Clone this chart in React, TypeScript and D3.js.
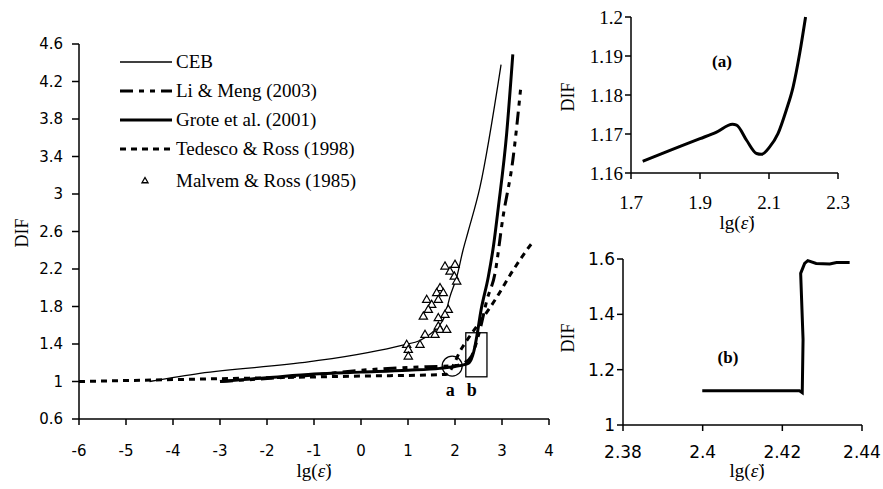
import React from "react";
import * as d3 from "d3";

// ---------- Main chart data ----------
const xTicksMain = [-6, -5, -4, -3, -2, -1, 0, 1, 2, 3, 4];
const yTicksMain = [0.6, 1, 1.4, 1.8, 2.2, 2.6, 3, 3.4, 3.8, 4.2, 4.6];

const cebX = [-4.5, -3.43, -1.09, 0.89, 1.26, 1.57, 1.79, 1.89, 2.04, 2.17, 2.28, 2.53, 2.98];
const cebY = [1.0, 1.087, 1.211, 1.389, 1.44, 1.55, 1.71, 1.9, 2.12, 2.4, 2.6, 3.07, 4.38];

const liX = [-3, -1, 0, 1, 2, 2.2, 2.35, 2.53, 2.68, 2.85, 3.02, 3.23, 3.4];
const liY = [1.0, 1.07, 1.12, 1.15, 1.17, 1.2, 1.27, 1.55, 1.87, 2.15, 2.75, 3.36, 4.14];

const groteX = [-3, -2, -1, 0, 1, 1.68, 2.0, 2.2, 2.3, 2.4, 2.47, 2.55, 2.71, 2.82, 2.92, 3.1, 3.23];
const groteY = [1.0, 1.04, 1.08, 1.1, 1.12, 1.14, 1.16, 1.18, 1.2, 1.32, 1.5, 1.75, 2.12, 2.45, 2.85, 3.65, 4.49];

const tedX = [-6, -3, 0, 1.8, 2.15, 2.89, 3.24, 3.44, 3.63, 3.68];
const tedY = [1.0, 1.03, 1.058, 1.075, 1.36, 1.9, 2.19, 2.34, 2.47, 2.5];

const malX = [1.787, 2.0, 1.894, 1.985, 2.036, 1.681, 1.611, 1.751, 1.645, 1.398, 1.504, 1.432, 1.326,
  1.857, 1.787, 1.645, 1.645, 1.681, 1.823, 1.574, 1.362, 1.255, 0.972, 1.006, 1.006];
const malY = [2.225, 2.243, 2.171, 2.118, 2.065, 1.994, 1.941, 1.941, 1.869, 1.869, 1.816, 1.763, 1.691,
  1.763, 1.709, 1.674, 1.585, 1.549, 1.549, 1.496, 1.496, 1.389, 1.389, 1.336, 1.265];

const legendLabels = ["CEB", "Li & Meng (2003)", "Grote et al. (2001)", "Tedesco & Ross (1998)", "Malvem & Ross (1985)"];

// annotation regions (data coords)
const circleA = [1.94, 1.165];
const boxB = [2.23, 2.68, 1.05, 1.52];

// ---------- Inset (a) ----------
const xTicksA = [1.7, 1.9, 2.1, 2.3];
const yTicksA = [1.16, 1.17, 1.18, 1.19, 1.2];
const aX = [1.734, 1.813, 1.9, 1.948, 1.994, 2.006, 2.035, 2.064, 2.078, 2.102, 2.126, 2.15, 2.17, 2.189, 2.206];
const aY = [1.163, 1.1658, 1.1688, 1.1705, 1.1725, 1.1723, 1.1684, 1.165, 1.1648, 1.1667, 1.1701, 1.1761, 1.1821, 1.1907, 1.2];

// ---------- Inset (b) ----------
const xTicksB = [2.38, 2.4, 2.42, 2.44];
const yTicksB = [1, 1.2, 1.4, 1.6];
const bX = [2.3999, 2.4243, 2.425, 2.4252, 2.4252, 2.4246, 2.4256, 2.4264, 2.4285, 2.4319, 2.4336, 2.4369];
const bY = [1.124, 1.124, 1.117, 1.307, 1.31, 1.548, 1.584, 1.594, 1.584, 1.582, 1.587, 1.587];

const SANS = "DejaVu Sans, sans-serif";
const SERIF = "Liberation Serif, Times New Roman, serif";

function zip(xs: number[], ys: number[]): [number, number][] {
  return xs.map((x, i) => [x, ys[i]]);
}

function XLabel({ x, y, size }: { x: number; y: number; size: number }) {
  return (
    <text x={x} y={y} textAnchor="middle" fontFamily={SERIF} fontSize={size} fill="#000">
      lg(<tspan fontStyle="italic">ε̇</tspan>)
    </text>
  );
}

function YLabel({ x, y, size }: { x: number; y: number; size: number }) {
  return (
    <text transform={`translate(${x},${y}) rotate(-90)`} textAnchor="middle" dominantBaseline="central"
      fontFamily={SERIF} fontSize={size} fill="#000">DIF</text>
  );
}

export default function App() {
  // main scales
  const x = d3.scaleLinear().domain([-6, 4]).range([79, 549]);
  const y = d3.scaleLinear().domain([0.6, 4.6]).range([419, 44]);
  const lineMain = d3.line<[number, number]>().x((d) => x(d[0])).y((d) => y(d[1])).curve(d3.curveMonotoneX);

  // inset a
  const xa = d3.scaleLinear().domain([1.7, 2.3]).range([631, 838]);
  const ya = d3.scaleLinear().domain([1.16, 1.2]).range([173, 17]);
  const lineA = d3.line<[number, number]>().x((d) => xa(d[0])).y((d) => ya(d[1])).curve(d3.curveMonotoneX);

  // inset b
  const xb = d3.scaleLinear().domain([2.38, 2.44]).range([623, 862]);
  const yb = d3.scaleLinear().domain([1, 1.6]).range([425, 259]);
  const lineB = d3.line<[number, number]>().x((d) => xb(d[0])).y((d) => yb(d[1]));

  const tri = d3.symbol().type(d3.symbolTriangle).size(30)() as string;
  const triLegend = d3.symbol().type(d3.symbolTriangle).size(16)() as string;

  const legendY = [62, 91, 120, 149, 181];
  const legendStyles = [
    { w: 1.3, dash: "" },
    { w: 3, dash: "13,6,5,6,5,6" },
    { w: 3, dash: "" },
    { w: 3, dash: "6,5" },
  ];

  return (
    <svg width={883} height={489} style={{ position: "absolute", left: 0, top: 0, background: "#fff" }}>
      <rect x={0} y={0} width={883} height={489} fill="#fff" />

      {/* ===== Main chart ===== */}
      <g>
        {/* curves */}
        <path d={lineMain(zip(cebX, cebY)) || ""} fill="none" stroke="#000" strokeWidth={1.3} />
        <path d={lineMain(zip(tedX, tedY)) || ""} fill="none" stroke="#000" strokeWidth={3} strokeDasharray="6,5" />
        <path d={lineMain(zip(liX, liY)) || ""} fill="none" stroke="#000" strokeWidth={3} strokeDasharray="13,6,5,6,5,6" />
        <path d={lineMain(zip(groteX, groteY)) || ""} fill="none" stroke="#000" strokeWidth={3} />
        {/* triangles */}
        {malX.map((v, i) => (
          <path key={i} d={tri} transform={`translate(${x(v)},${y(malY[i])})`} fill="#fff" stroke="#000" strokeWidth={1.2} />
        ))}
        {/* annotations */}
        <circle cx={x(circleA[0])} cy={y(circleA[1])} r={10} fill="none" stroke="#000" strokeWidth={1.3} />
        <rect x={x(boxB[0])} y={y(boxB[3])} width={x(boxB[1]) - x(boxB[0])} height={y(boxB[2]) - y(boxB[3])}
          fill="none" stroke="#000" strokeWidth={1.3} />
        <text x={x(circleA[0]) - 2} y={396} textAnchor="middle" fontFamily={SERIF} fontWeight="bold" fontSize={18}>a</text>
        <text x={x(boxB[0]) + 6} y={396} textAnchor="middle" fontFamily={SERIF} fontWeight="bold" fontSize={18}>b</text>

        {/* axes */}
        <line x1={79} x2={79} y1={y(4.6)} y2={y(0.6)} stroke="#000" strokeWidth={1.5} />
        <line x1={79} x2={549} y1={419} y2={419} stroke="#000" strokeWidth={1.5} />
        {yTicksMain.map((t) => (
          <g key={t}>
            <line x1={72} x2={79} y1={y(t)} y2={y(t)} stroke="#000" strokeWidth={1.5} />
            <text x={63} y={y(t)} dy="0.36em" textAnchor="end" fontFamily={SANS} fontSize={15}>{t}</text>
          </g>
        ))}
        {xTicksMain.map((t) => (
          <g key={t}>
            <line x1={x(t)} x2={x(t)} y1={419} y2={425} stroke="#000" strokeWidth={1.5} />
            <text x={x(t)} y={456} textAnchor="middle" fontFamily={SANS} fontSize={15}>{t}</text>
          </g>
        ))}
        <XLabel x={314} y={477} size={19} />
        <YLabel x={22} y={233} size={18} />

        {/* legend */}
        {legendStyles.map((s, i) => (
          <line key={i} x1={120} x2={172} y1={legendY[i]} y2={legendY[i]} stroke="#000" strokeWidth={s.w}
            strokeDasharray={s.dash || undefined} />
        ))}
        <path d={triLegend} transform={`translate(145,${legendY[4]})`} fill="#fff" stroke="#000" strokeWidth={1.3} />
        {legendLabels.map((l, i) => (
          <text key={l} x={176} y={legendY[i] + 6} fontFamily={SERIF} fontSize={19}>{l}</text>
        ))}
      </g>

      {/* ===== Inset (a) ===== */}
      <g>
        <path d={lineA(zip(aX, aY)) || ""} fill="none" stroke="#000" strokeWidth={3} />
        <line x1={631} x2={631} y1={17} y2={173} stroke="#000" strokeWidth={1.5} />
        <line x1={631} x2={838} y1={173} y2={173} stroke="#000" strokeWidth={1.5} />
        {yTicksA.map((t) => (
          <g key={t}>
            <line x1={625} x2={631} y1={ya(t)} y2={ya(t)} stroke="#000" strokeWidth={1.5} />
            <text x={623} y={ya(t)} dy="0.35em" textAnchor="end" fontFamily={SERIF} fontSize={19}>{t}</text>
          </g>
        ))}
        {xTicksA.map((t) => (
          <g key={t}>
            <line x1={xa(t)} x2={xa(t)} y1={173} y2={179} stroke="#000" strokeWidth={1.5} />
            <text x={xa(t)} y={209} textAnchor="middle" fontFamily={SERIF} fontSize={19}>{t}</text>
          </g>
        ))}
        <text x={722} y={67} textAnchor="middle" fontFamily={SERIF} fontWeight="bold" fontSize={17}>(a)</text>
        <XLabel x={737} y={229} size={19} />
        <YLabel x={568} y={97} size={18} />
      </g>

      {/* ===== Inset (b) ===== */}
      <g>
        <path d={lineB(zip(bX, bY)) || ""} fill="none" stroke="#000" strokeWidth={3} />
        <line x1={623} x2={623} y1={259} y2={425} stroke="#000" strokeWidth={1.5} />
        <line x1={623} x2={862} y1={425} y2={425} stroke="#000" strokeWidth={1.5} />
        {yTicksB.map((t) => (
          <g key={t}>
            <line x1={617} x2={623} y1={yb(t)} y2={yb(t)} stroke="#000" strokeWidth={1.5} />
            <text x={615} y={yb(t)} dy="0.36em" textAnchor="end" fontFamily={SANS} fontSize={17}>{t}</text>
          </g>
        ))}
        {xTicksB.map((t) => (
          <g key={t}>
            <line x1={xb(t)} x2={xb(t)} y1={425} y2={431} stroke="#000" strokeWidth={1.5} />
            <text x={xb(t)} y={458} textAnchor="middle" fontFamily={SANS} fontSize={17}>{t}</text>
          </g>
        ))}
        <text x={728} y={363} textAnchor="middle" fontFamily={SERIF} fontWeight="bold" fontSize={17}>(b)</text>
        <XLabel x={747} y={477} size={19} />
        <YLabel x={568} y={338} size={18} />
      </g>
    </svg>
  );
}
